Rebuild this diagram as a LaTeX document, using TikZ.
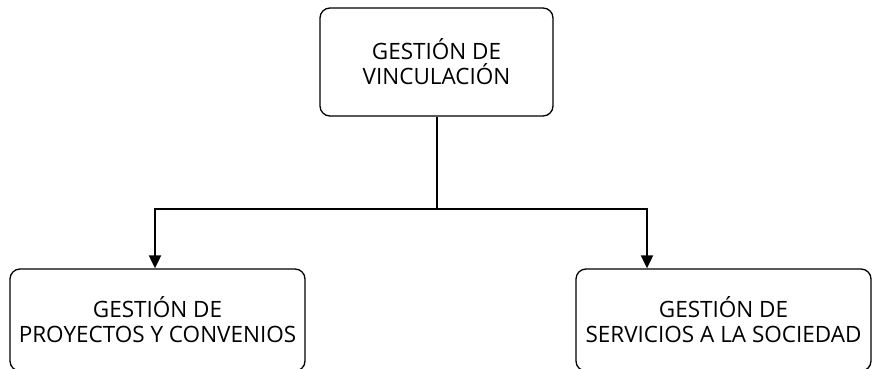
\documentclass[tikz,border=0pt]{standalone}
\usepackage{fontspec}
\setmainfont{Open Sans}
\usetikzlibrary{arrows.meta}
\newcommand{\boxfont}{\fontsize{22.5}{25}\selectfont\lineskiplimit=-20pt\relax}

\begin{document}
\begin{tikzpicture}[x=1pt,y=-1pt,
  box/.style={draw,rectangle,rounded corners=10pt,line width=1.3pt,align=center,
    inner sep=0pt,font=\boxfont},
  link/.style={line width=2pt,-{Triangle[width=12pt,length=13pt]}}]
\useasboundingbox (0,0) rectangle (872,369);

% Main unit
\node[box,minimum width=233pt,minimum height=108pt] (vinc) at (436.5,62) {GESTIÓN DE\\VINCULACIÓN};

% Two sub units
\node[box,minimum width=295pt,minimum height=102pt] (proy) at (157.5,320) {GESTIÓN DE\\PROYECTOS Y CONVENIOS};
\node[box,minimum width=295pt,minimum height=102pt] (serv) at (723.5,320) {GESTIÓN DE\\SERVICIOS A LA SOCIEDAD};

% Connection lines
\coordinate (split) at (436.5,209);
\draw[line width=2pt] (vinc.south) -- (split);
\draw[link] (split) -| (proy.north -| 155,0);
\draw[link] (split) -| (serv.north -| 647,0);
\end{tikzpicture}
\end{document}
